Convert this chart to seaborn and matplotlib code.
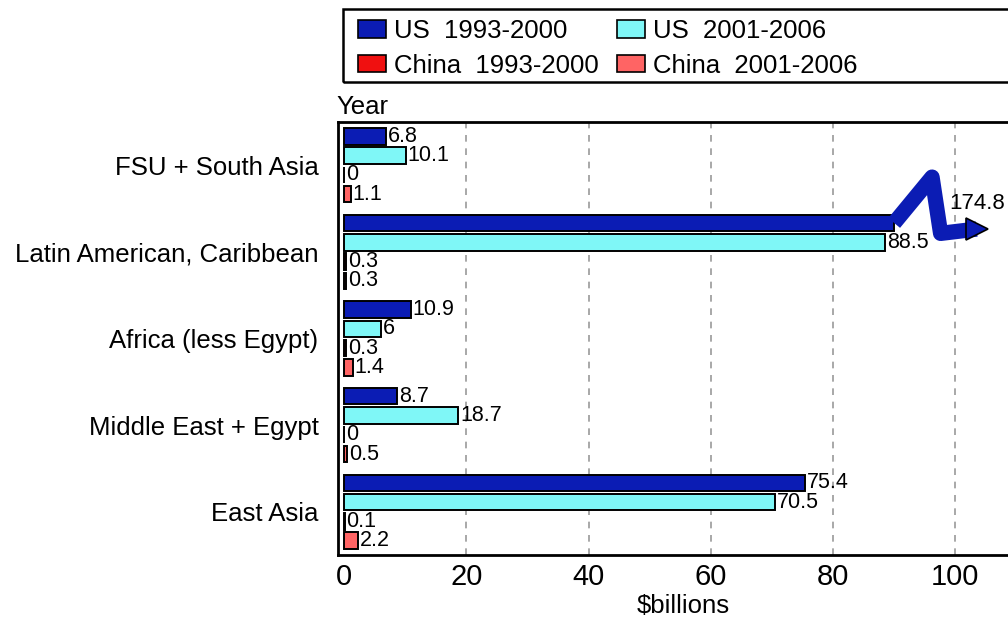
"""
US / China foreign direct investment by region, horizontal grouped bars
"""
import numpy as np
import pandas as pd
import matplotlib
matplotlib.use('Agg')
import matplotlib.pyplot as plt
from matplotlib.patches import Rectangle, Patch
import seaborn as sns

# ==================== data ====================
regions = ['FSU + South Asia', 'Latin American, Caribbean', 'Africa (less Egypt)',
           'Middle East + Egypt', 'East Asia']
series = ['US  1993-2000', 'US  2001-2006', 'China  1993-2000', 'China  2001-2006']
us_9300 = [6.8, 174.8, 10.9, 8.7, 75.4]
us_0106 = [10.1, 88.5, 6, 18.7, 70.5]
cn_9300 = [0, 0.3, 0.3, 0, 0.1]
cn_0106 = [1.1, 0.3, 1.4, 0.5, 2.2]
x_ticks = [0, 20, 40, 60, 80, 100]

colors = ['#0b1cb4', '#7ff7f7', '#f01010', '#ff6464']
BREAK = 90  # bars longer than this are cut with a squiggle

rows = []
for s, vals in zip(series, [us_9300, us_0106, cn_9300, cn_0106]):
    for r, v in zip(regions, vals):
        rows.append({'region': r, 'series': s, 'value': v, 'shown': min(v, BREAK)})
df = pd.DataFrame(rows)

sns.set_style('white')
plt.rcParams['font.family'] = ['Liberation Sans', 'DejaVu Sans']
plt.rcParams['text.color'] = 'black'
plt.rcParams['axes.labelcolor'] = 'black'
plt.rcParams['xtick.color'] = 'black'
plt.rcParams['ytick.color'] = 'black'

fig = plt.figure(figsize=(10.08, 6.19), dpi=100)
ax = fig.add_axes([338 / 1008, 1 - 555 / 619, 690 / 1008, 433 / 619])

sns.barplot(data=df, x='shown', y='region', hue='series', orient='h',
            palette=colors, width=0.89, gap=0.14, edgecolor='black',
            linewidth=1.4, ax=ax, legend=False, saturation=1)

ax.set_xlim(-1, 111.9)
ax.set_ylim(4.5, -0.5)
ax.set_xticks(x_ticks)
ax.set_xticklabels([str(t) for t in x_ticks], fontsize=21)
ax.tick_params(axis='x', length=0, pad=6)
ax.tick_params(axis='y', length=0, pad=14, labelsize=18.5)
ax.set_xlabel('$billions', fontsize=18.5, labelpad=2)
ax.set_ylabel('')
for t in x_ticks[1:]:
    ax.axvline(t, color='#999999', linestyle=(0, (4, 4)), linewidth=1.2, zorder=0)
for side in ['top', 'left', 'bottom']:
    ax.spines[side].set_color('black')
    ax.spines[side].set_linewidth(2)
ax.spines['right'].set_visible(False)

ax.text(-1.3, -0.54, 'Year', fontsize=18.5, ha='left', va='bottom')

# value labels
all_vals = [us_9300, us_0106, cn_9300, cn_0106]
for cont, vals in zip(ax.containers, all_vals):
    for bar, v in zip(cont, vals):
        yc = bar.get_y() + bar.get_height() / 2
        if v > BREAK:
            # squiggle showing the cut-off bar
            xs = [BREAK, 96.2, 97.6, 103.5]
            ys = [yc, yc - 0.53, yc + 0.12, yc + 0.07]
            ax.plot(xs, ys, color=colors[0], linewidth=11, solid_joinstyle='round',
                    solid_capstyle='butt', zorder=3)
            ax.plot([xs[-1]], [ys[-1]], marker='>', markersize=16, color=colors[0],
                    markeredgecolor='black', markeredgewidth=1.2, zorder=4)
            ax.text(99.0, yc - 0.22, f'{v:g}', fontsize=16, ha='left', va='center')
        else:
            ax.text(v + 0.3, yc, f'{v:g}', fontsize=15.5, ha='left', va='center')

# legend in a box running off the right edge
fig.patches.append(Rectangle((343 / 1008, 1 - 82 / 619), 700 / 1008, 73 / 619,
                             transform=fig.transFigure, fill=False,
                             edgecolor='black', linewidth=1.8))
handles = [Patch(facecolor=c, edgecolor='black', linewidth=1.2) for c in colors]
order = [0, 2, 1, 3]
fig.legend([handles[i] for i in order], [series[i] for i in order],
           loc='upper left', bbox_to_anchor=(340 / 1008, 1 - 1 / 619), ncol=2,
           frameon=False, fontsize=18.5, handlelength=1.1, handleheight=0.65,
           handletextpad=0.3, columnspacing=0.7, labelspacing=0.42, borderpad=0.2)

fig.savefig('out.png', dpi=100)
